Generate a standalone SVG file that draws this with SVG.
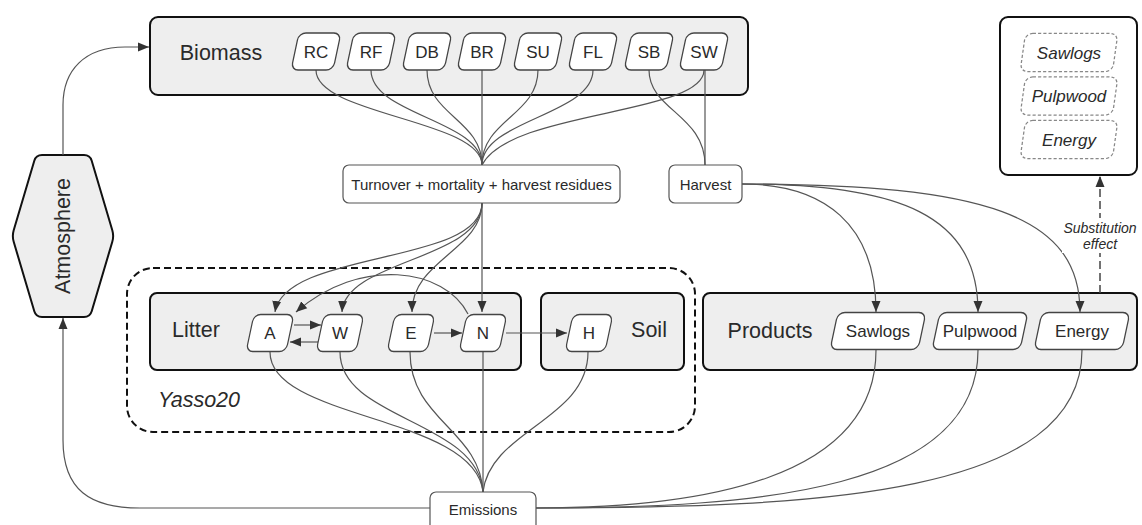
<svg xmlns="http://www.w3.org/2000/svg" width="1142" height="525" viewBox="0 0 1142 525">
<defs>
<style>
.box{fill:#eeeeee;stroke:#111;stroke-width:2}
.wbox{fill:#fff;stroke:#111;stroke-width:2}
.node{fill:#fff;stroke:#444;stroke-width:1.3}
.dnode{fill:#fff;stroke:#888;stroke-width:1.2;stroke-dasharray:3 2}
.rbox{fill:#fff;stroke:#555;stroke-width:1.2}
.t{font-family:"Liberation Sans",Arial,sans-serif;fill:#2a2a2a;text-anchor:middle;dominant-baseline:central}
.big{font-size:21.5px}
.nt{font-size:17px}
.sm{font-size:15px}
.sub{font-size:14px}
.it{font-style:italic}
.c{fill:none;stroke:#555;stroke-width:1.2}
.ca{fill:none;stroke:#555;stroke-width:1.2;marker-end:url(#ah)}
</style>
<marker id="ah" viewBox="0 0 11 10" refX="11" refY="5" markerWidth="11" markerHeight="10" markerUnits="userSpaceOnUse" orient="auto"><path d="M0,0.5 L11,5 L0,9.5 Z" fill="#333"/></marker>
<rect id="pg" x="-21" y="-18.5" width="42" height="37" rx="7"/>
<rect id="pgw" x="-44" y="-18.5" width="88" height="37" rx="7"/>
</defs>

<!-- containers -->
<g id="yasso20">
<rect x="127" y="268" width="568" height="164" rx="26" fill="none" stroke="#111" stroke-width="2" stroke-dasharray="7 4"/>
<text class="t big it" x="199" y="400">Yasso20</text>
</g>
<g id="biomass">
<rect class="box" x="150" y="17" width="598" height="78" rx="8"/>
<text class="t big" x="221" y="53">Biomass</text>
</g>
<g id="litter">
<rect class="box" x="150" y="293" width="371" height="77" rx="7"/>
<text class="t big" x="196" y="330">Litter</text>
</g>
<g id="soil">
<rect class="box" x="541" y="293" width="143" height="77" rx="7"/>
<text class="t big" x="649" y="330">Soil</text>
</g>
<g id="products">
<rect class="box" x="703" y="293" width="434" height="77" rx="7"/>
<text class="t big" x="770" y="331">Products</text>
</g>
<g id="atmosphere">
<path class="box" d="M42,155 H84 Q90,155 91.7,160.8 L112.3,230.2 Q114,236 112.3,241.8 L91.7,311.2 Q90,317 84,317 H42 Q36,317 34.3,311.2 L13.7,241.8 Q12,236 13.7,230.2 L34.3,160.8 Q36,155 42,155 Z"/>
<text class="t big" transform="translate(63,236) rotate(-90)">Atmosphere</text>
</g>
<g id="substitution-box">
<rect class="wbox" x="1000" y="17" width="137" height="158" rx="8"/>
</g>

<!-- connectors -->
<g id="connectors">
<path class="ca" d="M63,155 V105 C63,70 85,47 125,47 H149"/>
<path class="ca" d="M430,508 H140 C90,508 63,490 63,440 V318"/>
<!-- biomass to turnover -->
<path class="c" d="M316,70 C316,115 482,120 482,165"/>
<path class="c" d="M371,70 C371,115 482,120 482,165"/>
<path class="c" d="M427,70 C427,115 482,120 482,165"/>
<path class="c" d="M482,70 V165"/>
<path class="c" d="M538,70 C538,115 482,120 482,165"/>
<path class="c" d="M593,70 C593,115 482,120 482,165"/>
<path class="c" d="M704,70 C704,115 510,110 482,165"/>
<!-- biomass to harvest -->
<path class="c" d="M649,70 C649,110 705,115 705,165"/>
<path class="c" d="M705,70 V165"/>
<!-- turnover to litter -->
<path class="ca" d="M482,203 C482,265 285,250 275,312"/>
<path class="ca" d="M482,203 C482,260 345,260 342,312"/>
<path class="ca" d="M482,203 C482,250 412,260 412,312"/>
<path class="ca" d="M482,203 V312"/>
<path class="ca" d="M468,314 C445,268 360,256 296,312"/>
<!-- within litter -->
<path class="ca" d="M294,325 H321"/>
<path class="ca" d="M318,342 H290"/>
<path class="ca" d="M434,333 H462"/>
<path class="ca" d="M506,333 H567"/>
<!-- harvest to products -->
<path class="ca" d="M742,184 C825,184 876,225 876,312"/>
<path class="ca" d="M742,184 C900,184 978,215 978,312"/>
<path class="ca" d="M742,184 C985,184 1080,215 1080,312"/>
<!-- litter/soil to emissions -->
<path class="c" d="M270,352 C270,420 475,415 483,492"/>
<path class="c" d="M340,352 C340,420 478,420 483,492"/>
<path class="c" d="M410,352 C410,420 480,430 483,492"/>
<path class="c" d="M483,352 V492"/>
<path class="c" d="M588,352 C588,420 490,430 483,492"/>
<!-- products to emissions -->
<path class="c" d="M876,350 C876,480 700,508 536,508"/>
<path class="c" d="M978,350 C978,490 760,508 536,508"/>
<path class="c" d="M1082,350 C1082,495 820,508 536,508"/>
<!-- substitution -->
<path d="M1100,293 V176" fill="none" stroke="#444" stroke-width="1.5" stroke-dasharray="8 4" marker-end="url(#ah)"/>
<rect x="1062" y="218" width="78" height="35" fill="#fff"/>
<text class="t sub it" x="1100" y="228">Substitution</text>
<text class="t sub it" x="1100" y="244">effect</text>
</g>

<!-- biomass nodes -->
<g id="RC"><use href="#pg" class="node" transform="translate(316,51.5) skewX(-12)"/><text class="t nt" x="316" y="52">RC</text></g>
<g id="RF"><use href="#pg" class="node" transform="translate(371,51.5) skewX(-12)"/><text class="t nt" x="371" y="52">RF</text></g>
<g id="DB"><use href="#pg" class="node" transform="translate(427,51.5) skewX(-12)"/><text class="t nt" x="427" y="52">DB</text></g>
<g id="BR"><use href="#pg" class="node" transform="translate(482,51.5) skewX(-12)"/><text class="t nt" x="482" y="52">BR</text></g>
<g id="SU"><use href="#pg" class="node" transform="translate(538,51.5) skewX(-12)"/><text class="t nt" x="538" y="52">SU</text></g>
<g id="FL"><use href="#pg" class="node" transform="translate(593,51.5) skewX(-12)"/><text class="t nt" x="593" y="52">FL</text></g>
<g id="SB"><use href="#pg" class="node" transform="translate(649,51.5) skewX(-12)"/><text class="t nt" x="649" y="52">SB</text></g>
<g id="SW"><use href="#pg" class="node" transform="translate(704,51.5) skewX(-12)"/><text class="t nt" x="704" y="52">SW</text></g>

<!-- process boxes -->
<g id="turnover"><rect class="rbox" x="343" y="165" width="277" height="38" rx="6"/><text class="t sm" x="481.5" y="184">Turnover + mortality + harvest residues</text></g>
<g id="harvest"><rect class="rbox" x="669" y="165" width="73" height="38" rx="6"/><text class="t sm" x="705.5" y="184">Harvest</text></g>
<g id="emissions"><rect class="rbox" x="430" y="492" width="106" height="40" rx="6"/><text class="t sm" x="483" y="509">Emissions</text></g>

<!-- litter / soil nodes -->
<g id="A"><use href="#pg" class="node" transform="translate(270,333) skewX(-12) scale(0.95,1)"/><text class="t nt" x="270" y="333">A</text></g>
<g id="W"><use href="#pg" class="node" transform="translate(340,333) skewX(-12) scale(0.95,1)"/><text class="t nt" x="340" y="333">W</text></g>
<g id="E"><use href="#pg" class="node" transform="translate(411,333) skewX(-12) scale(0.95,1)"/><text class="t nt" x="411" y="333">E</text></g>
<g id="N"><use href="#pg" class="node" transform="translate(483,333) skewX(-12) scale(0.95,1)"/><text class="t nt" x="483" y="333">N</text></g>
<g id="H"><use href="#pg" class="node" transform="translate(589,333) skewX(-12) scale(0.95,1)"/><text class="t nt" x="589" y="333">H</text></g>

<!-- product nodes -->
<g id="Sawlogs"><use href="#pgw" class="node" transform="translate(878,331) skewX(-12)"/><text class="t nt" x="878" y="331">Sawlogs</text></g>
<g id="Pulpwood"><use href="#pgw" class="node" transform="translate(980,331) skewX(-12)"/><text class="t nt" x="980" y="331">Pulpwood</text></g>
<g id="Energy"><use href="#pgw" class="node" transform="translate(1082,331) skewX(-12)"/><text class="t nt" x="1082" y="331">Energy</text></g>

<!-- substituted products -->
<g id="sub-Sawlogs"><use href="#pgw" class="dnode" transform="translate(1069,52.5) skewX(-8) scale(1.05,1.03)"/><text class="t nt it" x="1069" y="53">Sawlogs</text></g>
<g id="sub-Pulpwood"><use href="#pgw" class="dnode" transform="translate(1069,96) skewX(-8) scale(1.05,1.03)"/><text class="t nt it" x="1069" y="96">Pulpwood</text></g>
<g id="sub-Energy"><use href="#pgw" class="dnode" transform="translate(1069,139.5) skewX(-8) scale(1.05,1.03)"/><text class="t nt it" x="1069" y="140">Energy</text></g>
</svg>
